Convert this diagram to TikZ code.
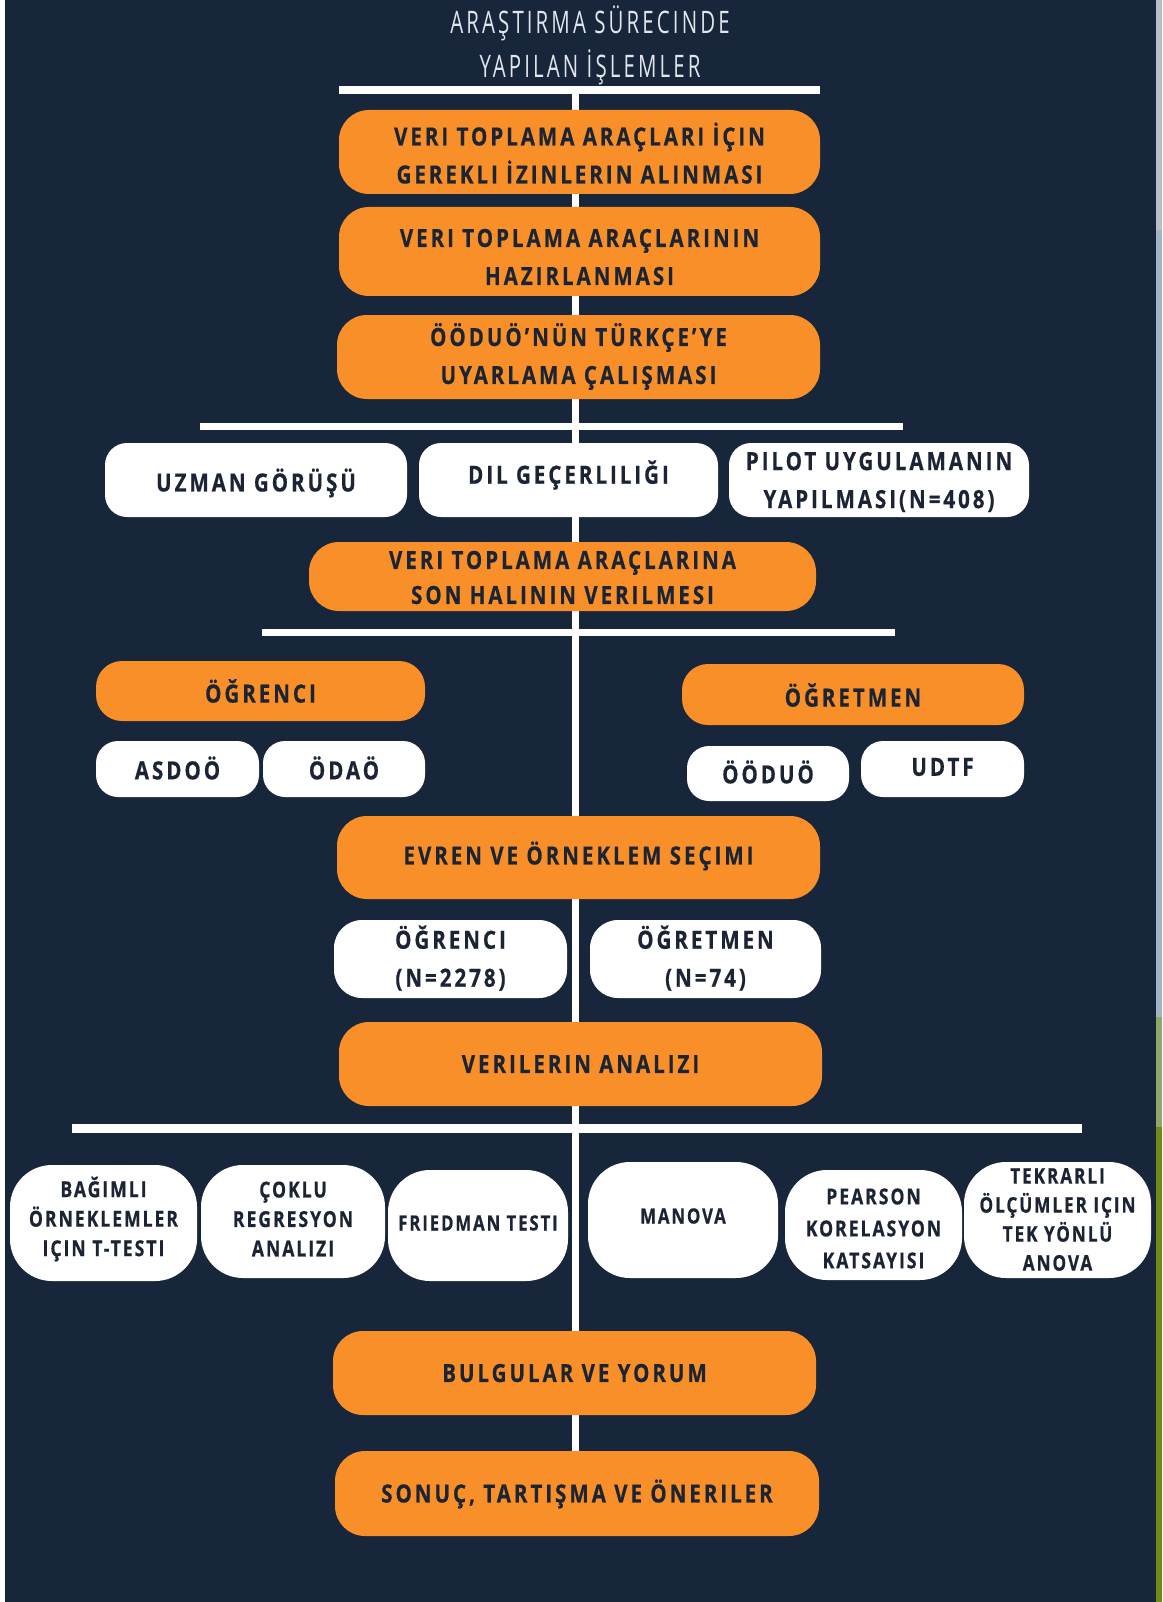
\documentclass[tikz,border=0pt]{standalone}
\usepackage{fontspec}
\newfontfamily\bxfont{Open Sans}[FakeStretch=0.82,LetterSpace=12,FakeBold=0.6]
\newfontfamily\bxfontb{Open Sans}[FakeStretch=0.8,LetterSpace=9,FakeBold=0.6]
\newfontfamily\ttlfont{Open Sans}[FakeStretch=0.66,LetterSpace=10]
\definecolor{bg}{HTML}{17263A}
\definecolor{orng}{HTML}{F98F29}
\definecolor{ink}{HTML}{1B2434}
\definecolor{ttl}{HTML}{E2E6EC}
\definecolor{edgeA}{HTML}{B8BEC6}
\definecolor{edgeB}{HTML}{A0B4C6}
\definecolor{edgeC}{HTML}{8FA86A}
\definecolor{edgeD}{HTML}{6E8B1A}
\tikzset{
  obox/.style={fill=orng, rounded corners=30pt, draw=none, inner sep=0pt},
  wbox/.style={fill=white, rounded corners=22pt, draw=none, inner sep=0pt},
  rbox/.style={fill=white, rounded corners=42pt, draw=none, inner sep=0pt},
  txt/.style={text=ink, align=center, inner sep=0pt, font=\bxfont\bfseries\fontsize{25}{38}\selectfont},
  stxt/.style={text=ink, align=center, inner sep=0pt, font=\bxfontb\bfseries\fontsize{22}{29.5}\selectfont},
  bar/.style={draw=white, line width=8pt},
}
\begin{document}
\begin{tikzpicture}[x=1pt,y=-1pt]
\fill[bg] (0,0) rectangle (1162,1602);
\useasboundingbox (0,0) rectangle (1162,1602);
\fill[white] (0,0) rectangle (5,1602);
\fill[edgeA] (1156,0) rectangle (1162,230);
\fill[edgeB] (1156,230) rectangle (1162,1017);
\fill[edgeC] (1156,1017) rectangle (1162,1127);
\fill[edgeD] (1156,1127) rectangle (1162,1602);
% title
\node[text=ttl, inner sep=0pt, font=\ttlfont\fontsize{31}{44}\selectfont, align=center] (title) at (590,45) {ARAŞTIRMA SÜRECINDE\\YAPILAN İŞLEMLER};
% spine and bars
\coordinate (sp1) at (575,90);
\coordinate (sp2) at (575,1451);
\draw[white, line width=7pt] (sp1) -- (sp2);
\coordinate (b1l) at (339,90); \coordinate (b1r) at (820,90);
\coordinate (b2l) at (200,426); \coordinate (b2r) at (903,426);
\coordinate (b3l) at (262,632); \coordinate (b3r) at (895,632);
\coordinate (b4l) at (72,1128); \coordinate (b4r) at (1082,1128);
\draw[bar] (b1l) -- (b1r);
\draw[bar, line width=7pt] (b2l) -- (b2r);
\draw[bar, line width=7pt] (b3l) -- (b3r);
\draw[bar, line width=9pt] (b4l) -- (b4r);
% orange main boxes
\node[obox, minimum width=481pt, minimum height=84pt] (n1) at (579.5,152) {};
\node[txt] (n1t) at (579.5,153) {VERI TOPLAMA ARAÇLARI İÇIN\\GEREKLI İZINLERIN ALINMASI};
\node[obox, minimum width=481pt, minimum height=89pt] (n2) at (579.5,251.5) {};
\node[txt] (n2t) at (579.5,257) {VERI TOPLAMA ARAÇLARININ\\HAZIRLANMASI};
\node[obox, minimum width=483pt, minimum height=84pt] (n3) at (578.5,357) {};
\node[txt] (n3t) at (578.5,356.5) {ÖÖDUÖ’NÜN TÜRKÇE’YE\\UYARLAMA ÇALIŞMASI};
% white row 1
\node[wbox, minimum width=302pt, minimum height=74pt] (w1) at (256,480) {};
\node[txt] (w1t) at (256,483) {UZMAN GÖRÜŞÜ};
\node[wbox, minimum width=299pt, minimum height=74pt] (w2) at (568.5,480) {};
\node[txt] (w2t) at (568.5,475) {DIL GEÇERLILIĞI};
\node[wbox, minimum width=300pt, minimum height=74pt] (w3) at (879,480) {};
\node[txt] (w3t) at (879,482) {PILOT UYGULAMANIN\\YAPILMASI(N=408)};
% orange box 4
\node[obox, minimum width=507pt, minimum height=69pt] (n4) at (562.5,576.5) {};
\node[txt, font=\bxfont\bfseries\fontsize{25}{35}\selectfont] (n4t) at (562.5,577.5) {VERI TOPLAMA ARAÇLARINA\\SON HALININ VERILMESI};
% groups
\node[obox, rounded corners=26pt, minimum width=329pt, minimum height=60pt] (g1) at (260.5,691) {};
\node[txt] (g1t) at (260.5,691) {ÖĞRENCI};
\node[obox, rounded corners=26pt, minimum width=342pt, minimum height=61pt] (g2) at (853,694.5) {};
\node[txt] (g2t) at (853,695) {ÖĞRETMEN};
\node[wbox, minimum width=163pt, minimum height=56pt] (s1) at (177.5,769) {};
\node[txt] (s1t) at (177.5,768) {ASDOÖ};
\node[wbox, minimum width=162pt, minimum height=56pt] (s2) at (344,769) {};
\node[txt] (s2t) at (344,768) {ÖDAÖ};
\node[wbox, minimum width=162pt, minimum height=55pt] (s3) at (768,773.5) {};
\node[txt] (s3t) at (768,772) {ÖÖDUÖ};
\node[wbox, minimum width=163pt, minimum height=56pt] (s4) at (942.5,769) {};
\node[txt] (s4t) at (942.5,767) {UDTF};
% evren
\node[obox, minimum width=483pt, minimum height=83pt] (n5) at (578.5,857.5) {};
\node[txt] (n5t) at (578.5,856) {EVREN VE ÖRNEKLEM SEÇIMI};
\node[wbox, rounded corners=28pt, minimum width=233pt, minimum height=78pt] (p1) at (450.5,959) {};
\node[txt] (p1t) at (450.5,958) {ÖĞRENCI\\(N=2278)};
\node[wbox, rounded corners=28pt, minimum width=231pt, minimum height=78pt] (p2) at (705.5,959) {};
\node[txt] (p2t) at (705.5,958) {ÖĞRETMEN\\(N=74)};
% analysis
\node[obox, minimum width=483pt, minimum height=84pt] (n6) at (580.5,1064) {};
\node[txt] (n6t) at (580.5,1064) {VERILERIN ANALIZI};
% bottom row
\node[rbox, minimum width=187pt, minimum height=116pt] (r1) at (103.5,1223) {};
\node[stxt] (r1t) at (103.5,1219) {BAĞIMLI\\ÖRNEKLEMLER\\IÇIN T-TESTI};
\node[rbox, minimum width=184pt, minimum height=113pt] (r2) at (293,1221.5) {};
\node[stxt] (r2t) at (293,1219) {ÇOKLU\\REGRESYON\\ANALIZI};
\node[rbox, minimum width=180pt, minimum height=111pt] (r3) at (478,1225.5) {};
\node[stxt, font=\bxfontb\bfseries\fontsize{21}{29}\selectfont] (r3t) at (478,1223) {FRIEDMAN TESTI};
\node[rbox, minimum width=190pt, minimum height=116pt] (r4) at (683,1220) {};
\node[stxt, font=\bxfontb\bfseries\fontsize{21}{29}\selectfont] (r4t) at (683,1216) {MANOVA};
\node[rbox, minimum width=177pt, minimum height=110pt] (r5) at (873.5,1225) {};
\node[stxt, font=\bxfontb\bfseries\fontsize{22}{32}\selectfont] (r5t) at (873.5,1228.5) {PEARSON\\KORELASYON\\KATSAYISI};
\node[rbox, minimum width=187pt, minimum height=116pt] (r6) at (1057.5,1220) {};
\node[stxt, font=\bxfontb\bfseries\fontsize{21.5}{29}\selectfont] (r6t) at (1057.5,1219.5) {TEKRARLI\\ÖLÇÜMLER IÇIN\\TEK YÖNLÜ\\ANOVA};
% results
\node[obox, minimum width=483pt, minimum height=84pt] (n7) at (574.5,1373) {};
\node[txt] (n7t) at (574.5,1373) {BULGULAR VE YORUM};
\node[obox, minimum width=484pt, minimum height=85pt] (n8) at (577,1493.5) {};
\node[txt] (n8t) at (577,1494) {SONUÇ, TARTIŞMA VE ÖNERILER};
\end{tikzpicture}
\end{document}
